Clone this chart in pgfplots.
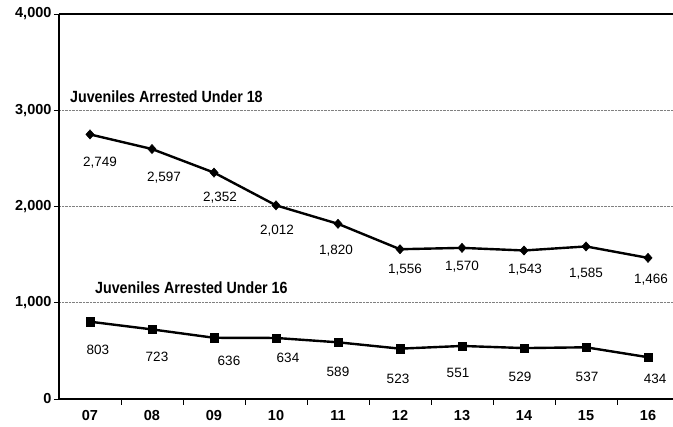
\documentclass[border=0pt]{standalone}
\usepackage{pgfplots}
\usepackage{pgfplotstable}
\pgfplotsset{compat=1.18}
\usepackage{fontspec}
\setmainfont{Liberation Sans}

% x = year index (07 = 0), dx/dy = label offset from the point in pt
\pgfplotstableread{
x y dx dy
0 2749 10 28
1 2597 12 29
2 2352 6 25
3 2012 1 25
4 1820 -2 27
5 1556 5 20
6 1570 0 19
7 1543 1 19
8 1585 0 27
9 1466 3 22
}\undereighteen

\pgfplotstableread{
x y dx dy
0 803 8 28
1 723 5 27
2 636 15 23
3 634 12 20
4 589 0 30
5 523 -2 30
6 551 -4 27
7 529 -4 29
8 537 1 30
9 434 7 22
}\undersixteen

\begin{document}
\begin{tikzpicture}
    \begin{axis}[
            scale only axis,
            width=614pt,
            height=385pt,
            xmin=-0.5, xmax=9.403,
            ymin=0, ymax=4000,
            axis x line*=bottom,
            axis y line*=left,
            axis line style={line width=2.3pt, -},
            xtick={0,...,9},
            xticklabels={07,08,09,10,11,12,13,14,15,16},
            minor xtick={0.5,1.5,...,8.5},
            ytick={0,1000,2000,3000,4000},
            tick align=outside,
            major tick length=5pt,
            minor tick length=6pt,
            major x tick style={draw=none},
            minor x tick style={black, line width=0.8pt},
            major y tick style={black, line width=0.8pt},
            ymajorgrids,
            major grid style={densely dotted, gray, line width=0.6pt},
            /pgf/number format/1000 sep={,},
            /pgf/number format/assume math mode=true,
            ticklabel style={font=\fontsize{14.5}{16}\selectfont\bfseries},
            yticklabel style={xshift=1pt},
            xticklabel style={yshift=-3pt},
            nodes near coords,
            visualization depends on={\thisrow{dx} \as \dx},
            visualization depends on={\thisrow{dy} \as \dy},
            every node near coord/.append style={
                    anchor=center, xshift=\dx pt, yshift=-\dy pt,
                    font=\fontsize{13.5}{15}\selectfont, black},
        ]

        % Under 18
        \addplot[black, line width=2.4pt, mark=diamond*, mark size=4.6pt,
            mark options={solid, line width=0.5pt, xscale=1.2}]
        table[x=x, y=y] {\undereighteen};

        % Under 16
        \addplot[black, line width=2.4pt, mark=square*, mark size=4.2pt,
            mark options={solid, line width=0.5pt}]
        table[x=x, y=y] {\undersixteen};

        \draw[line width=2.3pt] (rel axis cs:0,1) -- (rel axis cs:1,1);

        \node[anchor=west, inner sep=0pt, font=\fontsize{15}{17}\selectfont\bfseries]
            at (axis cs:-0.323,3138) {\scalebox{0.95}[1.08]{Juveniles Arrested Under 18}};
        \node[anchor=west, inner sep=0pt, font=\fontsize{15}{17}\selectfont\bfseries]
            at (axis cs:0.08,1153) {\scalebox{0.95}[1.08]{Juveniles Arrested Under 16}};
    \end{axis}
    \pgfresetboundingbox
    \path (-59pt,-28pt) rectangle (614pt,399pt);
\end{tikzpicture}
\end{document}
